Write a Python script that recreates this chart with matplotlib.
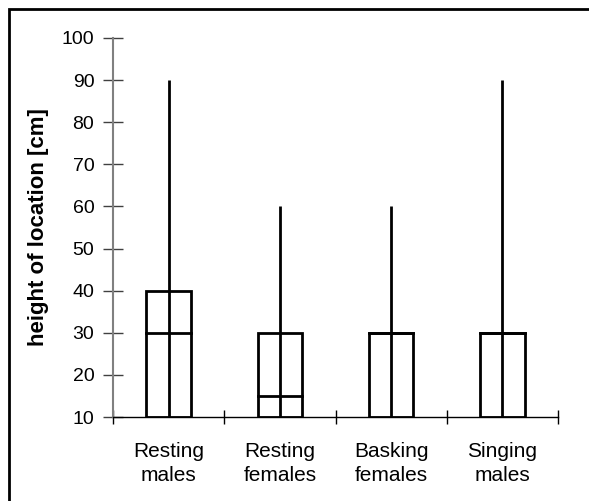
import matplotlib
matplotlib.use("Agg")
import matplotlib.pyplot as plt
from matplotlib.patches import Rectangle

plt.rcParams['font.family'] = ['Liberation Sans', 'DejaVu Sans']

categories = ["Resting\nmales", "Resting\nfemales", "Basking\nfemales", "Singing\nmales"]
lower = [10, 10, 10, 10]
upper = [40, 30, 30, 30]
median = [30, 15, 30, 30]
maximum = [90, 60, 60, 90]
y_ticks = [10, 20, 30, 40, 50, 60, 70, 80, 90, 100]

fig = plt.figure(figsize=(5.89, 5.01), dpi=100)
ax = fig.add_axes([113 / 589, 1 - 417 / 501, (558 - 113) / 589, (417 - 38) / 501])

# outer frame, only left/top visible in the original
fig.patches.append(Rectangle((9 / 589, -0.1), 1.2, 1 - 9 / 501 + 0.1, transform=fig.transFigure,
                             fill=False, edgecolor="black", linewidth=2))

w = 0.4
lw = 2
for i in range(len(categories)):
    x = i + 0.5
    ax.plot([x, x], [lower[i], maximum[i]], color="black", linewidth=lw, solid_capstyle="butt")
    ax.add_patch(Rectangle((x - w / 2, lower[i]), w, upper[i] - lower[i],
                           fill=False, edgecolor="black", linewidth=lw))
    ax.plot([x - w / 2, x + w / 2], [median[i], median[i]], color="black", linewidth=lw)

ax.set_xlim(0, len(categories))
ax.set_ylim(10, 100)
ax.set_yticks(y_ticks)
ax.set_xticks(range(len(categories) + 1))
ax.set_xticklabels([])
ax.set_xticks([i + 0.5 for i in range(len(categories))], minor=True)
ax.set_xticklabels(categories, minor=True, linespacing=1.35)
ax.tick_params(axis="x", which="minor", length=0, labelsize=15, pad=18)
ax.tick_params(axis="x", which="major", direction="inout", length=10, width=1, color="black")
ax.tick_params(axis="y", direction="inout", length=14, width=1, color="#404040", labelsize=14, pad=6.5)

for s in ["top", "right"]:
    ax.spines[s].set_visible(False)
ax.spines["left"].set_color("#808080")
ax.spines["left"].set_linewidth(1.5)
ax.spines["bottom"].set_color("black")
ax.spines["bottom"].set_linewidth(1)

ax.set_ylabel("height of location [cm]", fontsize=16, fontweight="bold", labelpad=9)

fig.savefig("out.png", dpi=100)
